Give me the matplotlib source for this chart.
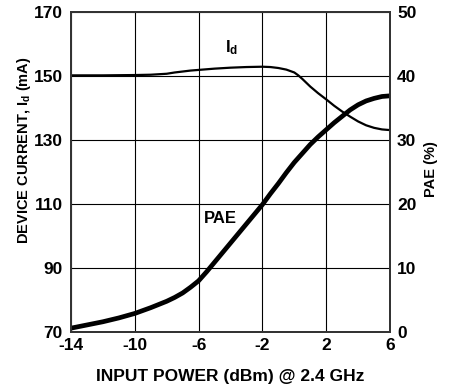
import matplotlib
matplotlib.use('Agg')
import matplotlib.pyplot as plt

plt.rcParams['font.family'] = ['Liberation Sans', 'DejaVu Sans']
plt.rcParams['font.weight'] = 'bold'
plt.rcParams['axes.unicode_minus'] = False
plt.rcParams['mathtext.fontset'] = 'custom'
plt.rcParams['mathtext.rm'] = 'Liberation Sans:bold'
plt.rcParams['mathtext.bf'] = 'Liberation Sans:bold'
plt.rcParams['mathtext.it'] = 'Liberation Sans:bold'

# input power (dBm) and device current (mA)
id_x = [-14, -12, -10, -9, -8, -7.5, -7, -6.5, -6, -5, -4, -3, -2, -1.5, -1, -0.5, 0, 0.25, 0.5, 0.75, 1, 1.5,
        2, 2.5, 3, 3.5, 4, 4.5, 5, 5.5, 6]
id_ma = [150.2, 150.2, 150.3, 150.4, 150.7, 151.1, 151.4, 151.7, 151.9, 152.3, 152.6, 152.8, 152.9, 152.8, 152.5,
         152.0, 151.1, 150.2, 149.1, 147.9, 146.7, 144.6, 142.7, 140.7, 138.9, 137.3, 135.8, 134.6, 133.8,
         133.3, 133.1]

# input power (dBm) and PAE (%)
pae_x = [-14, -13, -12, -11, -10, -9, -8, -7.5, -7, -6.5, -6, -5.5, -5, -4.5, -4, -3.5, -3, -2.5, -2, -1.5, -1,
         -0.5, 0, 0.5, 1, 1.5, 2, 2.5, 3, 3.5, 4, 4.5, 5, 5.5, 6]
pae = [0.6, 1.1, 1.6, 2.2, 2.9, 3.8, 4.8, 5.4, 6.1, 7.0, 8.0, 9.4, 10.9, 12.4, 13.9, 15.4, 16.9, 18.4, 19.9, 21.6,
       23.2, 24.9, 26.5, 27.9, 29.3, 30.5, 31.6, 32.7, 33.7, 34.7, 35.5, 36.1, 36.5, 36.8, 36.9]

x_ticks = [-14, -10, -6, -2, 2, 6]
left_ticks = [70, 90, 110, 130, 150, 170]
right_ticks = [0, 10, 20, 30, 40, 50]

fig = plt.figure(figsize=(4.56, 3.87), dpi=100)
ax = fig.add_axes([71 / 456, 1 - 332 / 387, 319 / 456, 320 / 387])
ax2 = ax.twinx()

ax.plot(id_x, id_ma, color='black', lw=1.6, solid_joinstyle='round')
ax2.plot(pae_x, pae, color='black', lw=3.4, solid_joinstyle='round')

ax.set_xlim(-14, 6)
ax.set_ylim(70, 170)
ax2.set_ylim(0, 50)
ax.set_xticks(x_ticks)
ax.set_yticks(left_ticks)
ax2.set_yticks(right_ticks)
ax.grid(True, color='black', lw=0.8)
ax.set_axisbelow(True)

ax.tick_params(axis='both', length=0, labelsize=12.5)
ax.tick_params(axis='y', pad=6)
ax.tick_params(axis='x', pad=4)
ax2.tick_params(axis='y', length=0, labelsize=12.5, pad=5)

for a in (ax, ax2):
    for s in a.spines.values():
        s.set_color('#333333')
        s.set_linewidth(1.3)

ax.set_xlabel('INPUT POWER (dBm) @ 2.4 GHz', fontsize=12.5, fontweight='bold', labelpad=12)
ax.set_ylabel('DEVICE CURRENT, $\\mathbf{I_d}$ (mA)', fontsize=10.5, fontweight='bold')
ax.yaxis.set_label_coords(-0.118, 0.567)
ax2.set_ylabel('PAE (%)', fontsize=10.5, fontweight='bold')
ax2.yaxis.set_label_coords(1.108, 0.51)

ax.text(-4.35, 157.5, '$\\mathbf{I_d}$', fontsize=12, ha='left', va='baseline')
ax.text(-5.7, 104.1, 'PAE', fontsize=12, fontweight='bold', ha='left', va='baseline')

fig.savefig('out.png', dpi=100)
